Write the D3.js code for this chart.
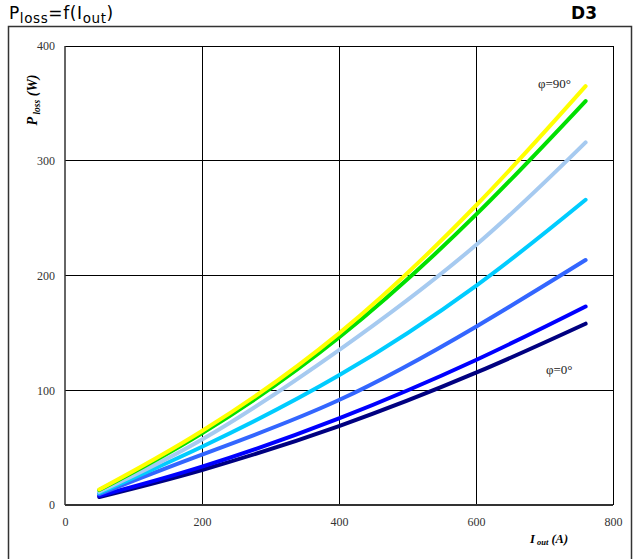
<!DOCTYPE html>
<html>
<head>
<meta charset="utf-8">
<script src="https://cdn.jsdelivr.net/npm/d3@7"></script>
<style>
  html, body { margin: 0; padding: 0; background: #fff; }
  svg { display: block; }
</style>
</head>
<body>
<svg id="chart" width="634" height="559"></svg>
<script>
// Output current (A) at which the loss curves were sampled
const currents = [50, 200, 400, 600, 760];

// Power loss (W) for each phase angle, from φ=90° down to φ=0°
const lossPhi90 = [13.5, 64.5, 149.6, 261, 365];
const lossPhi75 = [13, 62.5, 146, 253, 352];
const lossPhi60 = [11.5, 57, 135, 226.6, 316];
const lossPhi45 = [10.5, 50.8, 113, 191, 266];
const lossPhi30 = [9.5, 44, 91.5, 155.4, 213.5];
const lossPhi15 = [8, 33.4, 75.5, 126.4, 173];
const lossPhi0  = [7, 30.5, 68.8, 115.3, 158];

const seriesColors = ["#ffff00", "#00e000", "#a6caf0", "#00ccff", "#3366ff", "#0000ff", "#000080"];
const xTicks = [0, 200, 400, 600, 800];
const yTicks = [0, 100, 200, 300, 400];

const series = [lossPhi0, lossPhi15, lossPhi30, lossPhi45, lossPhi60, lossPhi75, lossPhi90]
  .map((vals, i) => ({ vals, color: seriesColors[6 - i] }));

const svg = d3.select("#chart");
const plot = { left: 65, right: 613, top: 46, bottom: 505 };

const x = d3.scaleLinear().domain([0, 800]).range([plot.left, plot.right]);
const y = d3.scaleLinear().domain([0, 400]).range([plot.bottom, plot.top]);

// Outer frame
svg.append("rect")
  .attr("x", 8.5).attr("y", 26.5).attr("width", 623).attr("height", 540)
  .attr("fill", "none").attr("stroke", "#333").attr("stroke-width", 1.5);

// Title
const sans = "DejaVu Sans, Verdana, sans-serif";
const title = svg.append("text")
  .attr("x", 9).attr("y", 19)
  .attr("font-family", sans)
  .attr("font-size", 17).attr("fill", "#000")
  .attr("letter-spacing", 0.6);
title.append("tspan").text("P");
title.append("tspan").attr("dy", 4).attr("font-size", 13.5).text("loss");
title.append("tspan").attr("dy", -4).text("=f(I");
title.append("tspan").attr("dy", 4).attr("font-size", 13.5).text("out");
title.append("tspan").attr("dy", -4).text(")");

svg.append("text")
  .attr("x", 597).attr("y", 19).attr("text-anchor", "end")
  .attr("font-family", sans)
  .attr("font-size", 17).attr("font-weight", "bold").text("D3");

// Grid
const grid = svg.append("g").attr("stroke", "#000").attr("stroke-width", 1).attr("shape-rendering", "crispEdges");
grid.selectAll("line.v").data(xTicks.slice(1)).join("line")
  .attr("x1", d => x(d)).attr("x2", d => x(d))
  .attr("y1", plot.top).attr("y2", plot.bottom);
grid.selectAll("line.h").data(yTicks.slice(1)).join("line")
  .attr("y1", d => y(d)).attr("y2", d => y(d))
  .attr("x1", plot.left).attr("x2", plot.right);

// Axis lines
svg.append("line").attr("x1", plot.left).attr("x2", plot.right)
  .attr("y1", plot.bottom).attr("y2", plot.bottom)
  .attr("stroke", "#333").attr("stroke-width", 2);
svg.append("line").attr("x1", plot.left).attr("x2", plot.left)
  .attr("y1", plot.top).attr("y2", plot.bottom)
  .attr("stroke", "#333").attr("stroke-width", 1.5);

// Tick labels via d3 axes (no tick marks or domain path)
const serif = "Liberation Serif, Times New Roman, serif";
const yAxis = svg.append("g")
  .attr("transform", `translate(${plot.left - 10},0)`)
  .call(d3.axisLeft(y).tickValues(yTicks).tickSize(0).tickPadding(0).tickFormat(d3.format("d")));
yAxis.select(".domain").remove();
yAxis.selectAll("text").attr("font-family", serif).attr("font-size", 12).attr("fill", "#333");

const xAxis = svg.append("g")
  .attr("transform", `translate(0,${plot.bottom + 12})`)
  .call(d3.axisBottom(x).tickValues(xTicks).tickSize(0).tickPadding(0).tickFormat(d3.format("d")));
xAxis.select(".domain").remove();
xAxis.selectAll("text").attr("font-family", serif).attr("font-size", 12).attr("fill", "#333");

// Axis titles
const xt = svg.append("text")
  .attr("x", 549).attr("y", 543).attr("text-anchor", "middle")
  .attr("font-family", serif).attr("font-size", 12.5)
  .attr("font-weight", "bold").attr("font-style", "italic");
xt.append("tspan").text("I");
xt.append("tspan").attr("dy", 2).attr("font-size", 8.5).text(" out");
xt.append("tspan").attr("dy", -2).text(" (A)");

const yt = svg.append("text")
  .attr("transform", "translate(37,100) rotate(-90)")
  .attr("text-anchor", "middle")
  .attr("font-family", serif).attr("font-size", 14)
  .attr("font-weight", "bold").attr("font-style", "italic");
yt.append("tspan").text("P");
yt.append("tspan").attr("dy", 2.5).attr("font-size", 9.5).text(" loss");
yt.append("tspan").attr("dy", -2.5).text(" (W)");

// Loss curves
const line = d3.line()
  .x((d, i) => x(currents[i]))
  .y(d => y(d))
  .curve(d3.curveNatural);

svg.append("g").selectAll("path").data(series).join("path")
  .attr("d", d => line(d.vals))
  .attr("fill", "none")
  .attr("stroke", d => d.color)
  .attr("stroke-width", 4)
  .attr("stroke-linecap", "round");

// Phase-angle annotations
svg.append("text").attr("x", 538).attr("y", 88)
  .attr("font-family", serif).attr("font-size", 13).attr("fill", "#222").text("φ=90°");
svg.append("text").attr("x", 546).attr("y", 374)
  .attr("font-family", serif).attr("font-size", 13).attr("fill", "#222").text("φ=0°");
</script>
</body>
</html>
